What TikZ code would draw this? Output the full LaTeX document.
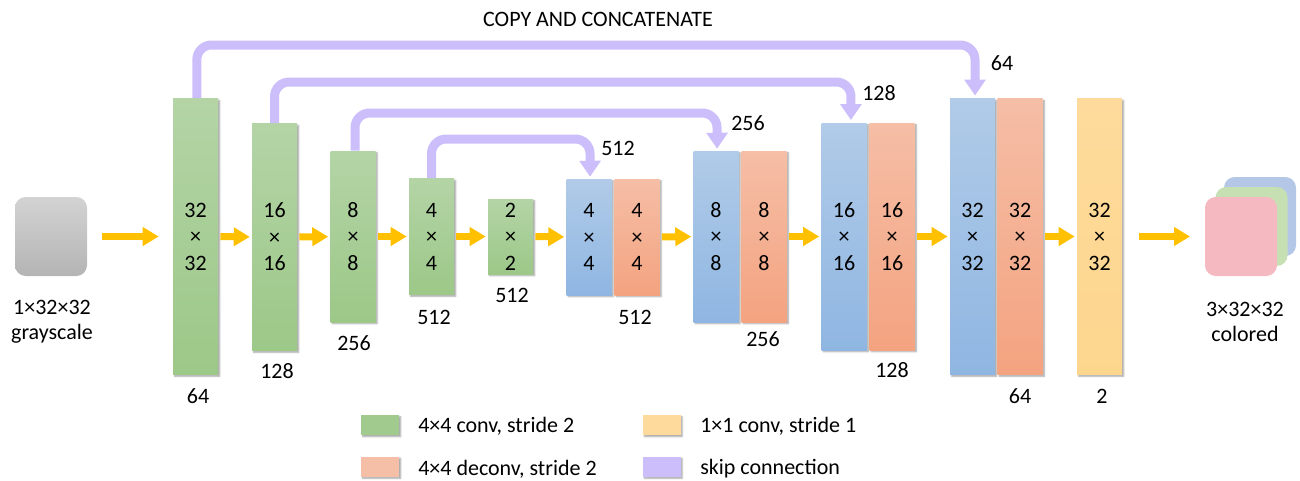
\documentclass[tikz,border=0pt]{standalone}
\usepackage{fontspec}
\setmainfont{Carlito}
\usetikzlibrary{arrows.meta,shadows.blur}

\definecolor{gtop}{HTML}{B4D4A6}
\definecolor{gbot}{HTML}{9CC888}
\definecolor{btop}{HTML}{B1CBE8}
\definecolor{bbot}{HTML}{8FB6E2}
\definecolor{otop}{HTML}{F5BEA6}
\definecolor{obot}{HTML}{F4A380}
\definecolor{ytop}{HTML}{FEDB9C}
\definecolor{ybot}{HTML}{FDD68E}
\definecolor{skipc}{HTML}{CBBEFA}
\definecolor{flowc}{HTML}{FFC000}
\definecolor{graytop}{HTML}{D3D3D3}
\definecolor{graybot}{HTML}{B4B4B4}
\definecolor{outr}{HTML}{F4B9C1}
\definecolor{outg}{HTML}{C6E0B4}
\definecolor{outb}{HTML}{B4C7E7}

\begin{document}
\begin{tikzpicture}[x=0.75pt,y=-0.75pt,
  font=\fontsize{16.5}{19.9}\selectfont,
  shad/.style={blur shadow={shadow xshift=1.3pt,shadow yshift=-1.3pt,
      shadow blur radius=1.2pt,shadow blur steps=4,shadow opacity=35}},
  blk/.style={minimum width=33.75pt,inner sep=0pt,align=center,shad},
  h32/.style={minimum height=207pt},
  h16/.style={minimum height=170.25pt},
  h8/.style={minimum height=128.25pt},
  h4/.style={minimum height=87pt},
  h2/.style={minimum height=56.25pt},
  conv/.style={blk,top color=gtop,bottom color=gbot},
  up/.style={blk,top color=btop,bottom color=bbot},
  deconv/.style={blk,top color=otop,bottom color=obot},
  onebyone/.style={blk,top color=ytop,bottom color=ybot},
  img/.style={minimum width=54pt,minimum height=59.25pt,inner sep=0pt,
      rounded corners=8pt},
  flow/.style={draw=flowc,line width=5.25pt,
      -{Triangle[width=13.5pt,length=12pt]},shorten <=1.5pt,shorten >=1.5pt},
  skip/.style={draw=skipc,line width=6.75pt,rounded corners=11pt,
      -{Triangle[width=15.5pt,length=12pt]}},
  lbl/.style={inner sep=0pt},
  key/.style={minimum width=28.5pt,minimum height=15pt,inner sep=0pt,shad},
  keytext/.style={anchor=west,inner sep=0pt}
]
\useasboundingbox (0,0) rectangle (1300,480);

% input and output images
\node[img,top color=graytop,bottom color=graybot] (in) at (51,236.5) {};
\node[img,fill=outb] (outB) at (1260,216.5) {};
\node[img,fill=outg] (outG) at (1251.5,226.5) {};
\node[img,fill=outr] (outR) at (1241,236.5) {};
\node[lbl,align=center,font=\fontsize{16.5}{18.75}\selectfont] (inlbl) at (52,322) {1×32×32\\grayscale};
\node[lbl,align=center,font=\fontsize{16.5}{18.75}\selectfont] (outlbl) at (1245,322) {3×32×32\\colored};

% encoder
\node[conv,h32] (b1) at (195.5,236.5) {32\\×\\32};
\node[conv,h16] (b2) at (274.5,237) {16\\×\\16};
\node[conv,h8]  (b3) at (353,236.5) {8\\×\\8};
\node[conv,h4]  (b4) at (431.5,236.5) {4\\×\\4};
\node[conv,h2]  (b5) at (510.5,236.5) {2\\×\\2};

% decoder
\node[up,h4]      (u4b)  at (589,237) {4\\×\\4};
\node[deconv,h4]  (u4o)  at (637,237) {4\\×\\4};
\node[up,h8]      (u8b)  at (716,236.5) {8\\×\\8};
\node[deconv,h8]  (u8o)  at (764,236.5) {8\\×\\8};
\node[up,h16]     (u16b) at (844,236.5) {16\\×\\16};
\node[deconv,h16] (u16o) at (892,236.5) {16\\×\\16};
\node[up,h32]     (u32b) at (972.5,236.5) {32\\×\\32};
\node[deconv,h32] (u32o) at (1020,236.5) {32\\×\\32};
\node[onebyone,h32] (y1) at (1099.5,236.5) {32\\×\\32};

% channel counts
\node[lbl] (c1) at (198,396) {64};
\node[lbl] (c2) at (277,371) {128};
\node[lbl] (c3) at (354,343) {256};
\node[lbl] (c4) at (434,317) {512};
\node[lbl] (c5) at (512,295) {512};
\node[lbl] (c6) at (635,317) {512};
\node[lbl] (c7) at (763,339) {256};
\node[lbl] (c8) at (892,370) {128};
\node[lbl] (c9) at (1020,396) {64};
\node[lbl] (c10) at (1102,396) {2};
\node[lbl] (s4) at (618,148) {512};
\node[lbl] (s3) at (748,123) {256};
\node[lbl] (s2) at (879,93) {128};
\node[lbl] (s1) at (1002,63) {64};

\node[lbl] (title) at (598,19) {COPY AND CONCATENATE};

% main data flow
\draw[flow,shorten <=11pt,shorten >=10.5pt] (in) -- (b1);
\draw[flow] (b1) -- (b2);
\draw[flow] (b2) -- (b3);
\draw[flow] (b3) -- (b4);
\draw[flow] (b4) -- (b5);
\draw[flow] (b5) -- (u4b);
\draw[flow] (u4o) -- (u8b);
\draw[flow] (u8o) -- (u16b);
\draw[flow] (u16o) -- (u32b);
\draw[flow] (u32o) -- (y1);
\draw[flow,shorten <=12.5pt,shorten >=11pt] (y1.east) -- (y1.east -| outR.west);

% skip connections
\coordinate (k1) at (975,45);
\coordinate (k2) at (851,82);
\coordinate (k3) at (717,113);
\coordinate (k4) at (590,139);
\draw[skip] ([xshift=1pt]b1.north) |- (k1) -- ([xshift=1.9pt,yshift=2pt]u32b.north);
\draw[skip] (b2.north) |- (k2) -- ([xshift=5.2pt,yshift=2pt]u16b.north);
\draw[skip] ([xshift=1.5pt]b3.north) |- (k3) -- ([xshift=0.8pt,yshift=1.5pt]u8b.north);
\draw[skip] (b4.north) |- (k4) -- ([xshift=0.8pt,yshift=1.5pt]u4b.north);

% legend
\node[key,fill=gbot!80!gtop] (kg) at (380,425) {};
\node[keytext] (kgt) at (418,426) {4×4 conv, stride 2};
\node[key,fill=otop] (ko) at (380,466.5) {};
\node[keytext] (kot) at (418,469) {4×4 deconv, stride 2};
\node[key,fill=ytop] (ky) at (661.5,425) {};
\node[keytext] (kyt) at (700,426) {1×1 conv, stride 1};
\node[key,fill=skipc] (kp) at (661.5,466.5) {};
\node[keytext] (kpt) at (700,469) {skip connection};
\end{tikzpicture}
\end{document}
